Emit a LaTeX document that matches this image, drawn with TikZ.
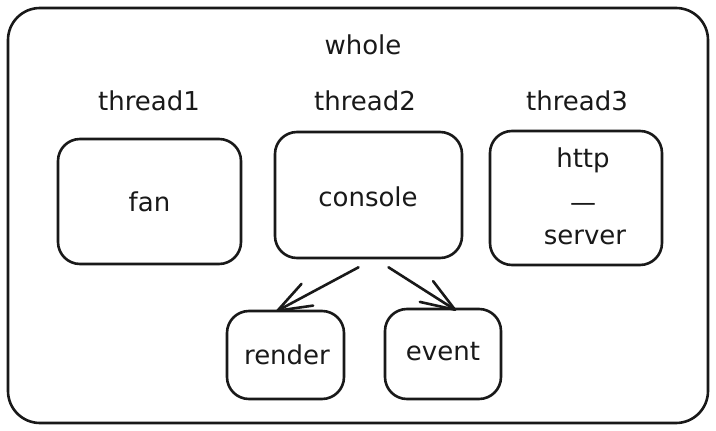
\documentclass[tikz,border=0pt]{standalone}
\usepackage{fontspec}
\setmainfont{DejaVu Sans}
\usetikzlibrary{calc}
\tikzset{
  box/.style={draw=black!90, line width=2.6pt, rounded corners=22pt, inner sep=0pt},
  lbl/.style={font=\fontsize{26}{30}\selectfont, text=black!90, inner sep=0pt},
  conn/.style={draw=black!90, line width=2.6pt, line cap=round, line join=round}
}
\begin{document}
\begin{tikzpicture}[x=1pt,y=-1pt]
\useasboundingbox[fill=white] (0,0) rectangle (716,431);
\node[box, rounded corners=32pt, minimum width=700pt, minimum height=415pt] (outer) at (358,215.5) {};
\node[lbl] (whole) at (363,45) {whole};
\node[lbl] (t1) at (149,101) {thread1};
\node[lbl] (t2) at (365,101) {thread2};
\node[lbl] (t3) at (577,101) {thread3};
\node[box, minimum width=183pt, minimum height=125pt] (fan) at (149.5,201.5) {};
\node[lbl] (fant) at (fan.center) {fan};
\node[box, minimum width=187pt, minimum height=126pt] (console) at (368.5,195) {};
\node[lbl] (consolet) at (368,197) {console};
\node[box, minimum width=172pt, minimum height=134pt] (http) at (576,198) {};
\node[lbl] (httpt) at (583,160) {http};
\node[lbl] (dash) at (583,207) {—};
\node[lbl] (servert) at (585,237) {server};
\node[box, minimum width=117pt, minimum height=88pt] (render) at (285.5,355) {};
\node[lbl] (rendert) at (287,355) {render};
\node[box, minimum width=116pt, minimum height=90pt] (event) at (443,354) {};
\node[lbl] (eventt) at (443,352) {event};
\coordinate (s1) at ([xshift=-10pt,yshift=-8pt]console.south);
\coordinate (e1) at ([xshift=-8pt,yshift=-1pt]render.north);
\coordinate (s2) at ([xshift=20pt,yshift=-8pt]console.south);
\coordinate (e2) at ([xshift=12pt,yshift=-2pt]event.north);
\draw[conn] (s1) -- (e1);
\draw[conn] ($(e1)!36pt!20:(s1)$) -- (e1) -- ($(e1)!36pt!-20:(s1)$);
\draw[conn] (s2) -- (e2);
\draw[conn] ($(e2)!36pt!20:(s2)$) -- (e2) -- ($(e2)!36pt!-20:(s2)$);
\end{tikzpicture}
\end{document}
